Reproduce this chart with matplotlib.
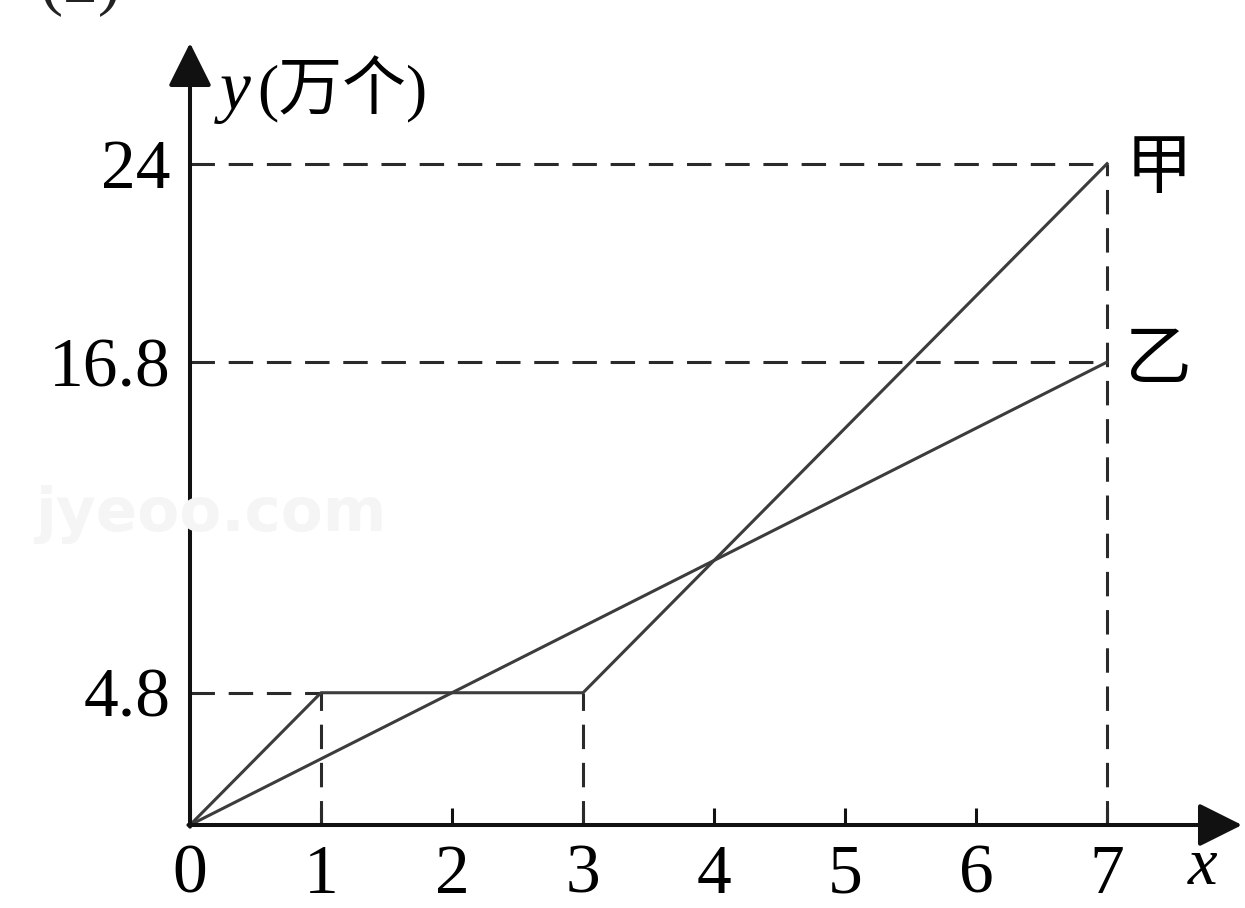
#!/usr/bin/env python
# -*- coding: utf-8 -*-
import matplotlib
matplotlib.use('agg')
import matplotlib.pyplot as plt
from matplotlib.transforms import ScaledTranslation

# x: time, y: output (万个)
x_ticks = [0, 1, 2, 3, 4, 5, 6, 7]
y_ticks = [4.8, 16.8, 24]
y_tick_labels = ['4.8', '16.8', '24']

jia_x = [0, 1, 3, 7]
jia_y = [0, 4.8, 4.8, 24]
yi_x = [0, 7]
yi_y = [0, 16.8]

# dashed guides: (level, end) horizontal, (x, top) vertical
guide_h = [(4.8, 1), (16.8, 7), (24, 7)]
guide_v = [(1, 4.8), (3, 4.8), (7, 24)]

SERIF = 'Liberation Serif'
CJK = ['Liberation Serif', 'Noto Sans CJK SC']


def main():
    fig = plt.figure(figsize=(12.45, 9.08), dpi=100)
    W, H = 1245.0, 908.0
    x0, y0 = 190.0, 825.0
    xmax, ymax = 8.03, 28.38
    ax = fig.add_axes([x0 / W, (H - y0) / H, 1052 / W, 782 / H])
    ax.set_xlim(0, xmax)
    ax.set_ylim(0, ymax)
    for s in ax.spines.values():
        s.set_visible(False)

    dash = (0, (8, 4.5))
    for lvl, end in guide_h:
        ax.plot([0, end], [lvl, lvl], color='#2a2a2a', lw=2.2,
                linestyle=dash, clip_on=False)
    for xv, top in guide_v:
        ax.plot([xv, xv], [0, top], color='#2a2a2a', lw=2.2,
                linestyle=dash, clip_on=False)

    ax.plot(jia_x, jia_y, color='#3c3c3c', lw=2.2, clip_on=False, zorder=3)
    ax.plot(yi_x, yi_y, color='#3c3c3c', lw=2.2, clip_on=False, zorder=3)

    arrow = dict(arrowstyle='-|>,head_length=0.9,head_width=0.45',
                 lw=2.9, color='#111111', shrinkA=0, shrinkB=0,
                 mutation_scale=30)
    ax.annotate('', xy=(xmax, 0), xytext=(-0.012, 0), arrowprops=arrow,
                annotation_clip=False, zorder=4)
    ax.annotate('', xy=(0, ymax), xytext=(0, -0.06), arrowprops=arrow,
                annotation_clip=False, zorder=4)

    ax.set_xticks(x_ticks)
    ax.set_xticklabels([str(v) for v in x_ticks], fontsize=50, family=SERIF)
    ax.set_yticks(y_ticks)
    ax.set_yticklabels(y_tick_labels, fontsize=50, family=SERIF)
    ax.tick_params(axis='x', direction='in', length=12, width=2.2,
                   color='#111111', pad=14)
    ax.tick_params(axis='y', length=0, pad=14)

    down = ax.transData + ScaledTranslation(0, -9 / 72.0, fig.dpi_scale_trans)
    ax.text(7.73, 0, 'x', fontsize=48, family=SERIF, style='italic',
            va='top', ha='center', transform=down)
    ax.text(0.23, 26.6, 'y', fontsize=50, family=SERIF, style='italic',
            va='center', ha='left', clip_on=False)
    ax.text(0.51, 26.7, '(万个)', fontsize=46, family=CJK,
            va='center', ha='left', clip_on=False)

    ax.text(7.14, 23.7, '甲', fontsize=48, family=CJK, va='center',
            ha='left', clip_on=False)
    ax.text(7.14, 16.8, '乙', fontsize=48, family=CJK, va='center',
            ha='left', clip_on=False)

    # faint watermark
    fig.text(35 / W, 1 - 515 / H, 'jyeoo.com', fontsize=44,
             fontweight='bold', color='#f5f5f5', va='center', zorder=0)
    # problem number, cut off at the top edge as in the source
    fig.text(40 / W, 1 - 2 / H, '(2)', fontsize=50, family=SERIF,
             va='baseline', color='#222222')

    fig.savefig('out.png', dpi=100)


if __name__ == '__main__':
    main()
